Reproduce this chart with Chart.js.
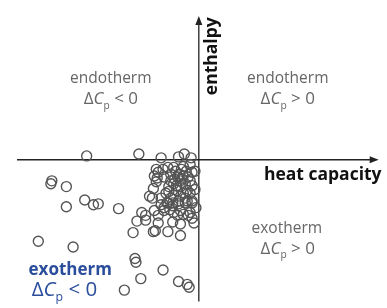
<!DOCTYPE html>
<html>
<head>
<meta charset="utf-8">
<script src="https://cdn.jsdelivr.net/npm/chart.js@4"></script>
<style>
  html, body { margin: 0; padding: 0; background: #fff; }
  #wrap { width: 387px; height: 308px; }
</style>
</head>
<body>
<div id="wrap"><canvas id="chart" width="387" height="308"></canvas></div>
<script>
// heat capacity change (x) vs enthalpy change (y), arbitrary units, origin where the axes cross
const heatCapacity = [
  -116, -62, -152, -153, -137, -118, -109, -104, -137, -83, -166, -130, -68, -64, -55,
  -66, -65, -37, -60, -21, -12, -10, -77, -39, -21, -15, -8,
  -44, -37, -32, -26, -16, -9, -7, -46, -36, -44, -47, -51, -29, -22, -16, -9, -7,
  -26, -19, -12, -31, -34, -26, -19, -39, -9, -12, -7, -42, -43,
  -24, -19, -14, -29, -23, -16, -29, -21, -33, -27, -17, -13, -31, -25, -20, -11,
  -48, -32, -27, -21, -14, -7, -59, -55, -46, -42, -36, -30, -26, -19, -16, -9, -11,
  -7, -5, -42, -27, -19, -47, -45, -32, -19, -22, -39, -36,
  -4, -4, -3, -18, -23, -14
];
const enthalpy = [
  4, 6, -22, -25, -28, -42, -47, -46, -49, -51, -85, -91, -76, -64, -63,
  -103, -107, -115, -124, -127, -130, -133, -136, 2, 3, 6, 2,
  -10, -10, -8, -8, -7, -5, -13, -17, -18, -23, -30, -38, -15, -18, -17, -22, -27,
  -25, -28, -32, -28, -35, -37, -38, -40, -35, -43, -43, -13, -19,
  -12, -22, -25, -22, -32, -35, -40, -43, -45, -48, -20, -12, -33, -20, -15, -18,
  -40, -45, -45, -46, -45, -45, -55, -58, -53, -58, -53, -52, -55, -53, -57, -55, -58,
  -61, -66, -66, -65, -67, -75, -74, -75, -79, -58, -47, -50,
  -12, -31, -50, -10, -27, -40
];
const xRange = [-199, 188];
const yRange = [-148, 160];

const points = heatCapacity.map((x, i) => ({ x: x, y: enthalpy[i] }));

const FONT = '"Open Sans", "DejaVu Sans", sans-serif';

// draw a line of text made of runs (normal / italic / subscript), centred on cx
function drawRuns(ctx, runs, cx, cy, size, color, weight) {
  const fontFor = r => {
    const s = r.sub ? size * 0.6 : size;
    return (r.italic ? 'italic ' : '') + (weight || 'normal') + ' ' + s + 'px ' + FONT;
  };
  let total = 0;
  runs.forEach(r => { ctx.font = fontFor(r); r.w = ctx.measureText(r.t).width; total += r.w; });
  let x = cx - total / 2;
  ctx.fillStyle = color;
  ctx.textBaseline = 'middle';
  ctx.textAlign = 'left';
  runs.forEach(r => {
    ctx.font = fontFor(r);
    ctx.fillText(r.t, x, cy + (r.sub ? size * 0.38 : 0));
    x += r.w;
  });
}

function deltaCp(sign) {
  return [{ t: '\u0394' }, { t: 'C', italic: true }, { t: 'p', sub: true }, { t: ' ' + sign + ' 0' }];
}

const axesPlugin = {
  id: 'axesPlugin',
  beforeDatasetsDraw(chart) {
    const ctx = chart.ctx;
    const xs = chart.scales.x, ys = chart.scales.y;
    const x0 = xs.getPixelForValue(0), y0 = ys.getPixelForValue(0);
    const left = xs.getPixelForValue(-188), right = xs.getPixelForValue(186);
    const top = ys.getPixelForValue(150), bottom = ys.getPixelForValue(-148);
    ctx.save();
    ctx.strokeStyle = '#222';
    ctx.fillStyle = '#222';
    ctx.lineWidth = 1.3;
    ctx.beginPath();
    ctx.moveTo(left, y0); ctx.lineTo(right - 6, y0);
    ctx.moveTo(x0, bottom); ctx.lineTo(x0, top + 6);
    ctx.stroke();
    // arrow heads
    ctx.beginPath();
    ctx.moveTo(right, y0); ctx.lineTo(right - 9, y0 - 3.5); ctx.lineTo(right - 9, y0 + 3.5); ctx.closePath();
    ctx.fill();
    ctx.beginPath();
    ctx.moveTo(x0, top); ctx.lineTo(x0 - 3.5, top + 9); ctx.lineTo(x0 + 3.5, top + 9); ctx.closePath();
    ctx.fill();
    ctx.restore();
  },
  afterDatasetsDraw(chart) {
    const ctx = chart.ctx;
    const xs = chart.scales.x, ys = chart.scales.y;
    const px = v => xs.getPixelForValue(v), py = v => ys.getPixelForValue(v);
    ctx.save();
    const grey = '#666';
    // quadrant labels
    drawRuns(ctx, [{ t: 'endotherm' }], px(-91), py(85), 15.5, grey);
    drawRuns(ctx, deltaCp('<'), px(-91), py(63), 17, grey);
    drawRuns(ctx, [{ t: 'endotherm' }], px(92), py(85), 15.5, grey);
    drawRuns(ctx, deltaCp('>'), px(92), py(63), 17, grey);
    drawRuns(ctx, [{ t: 'exotherm' }], px(91), py(-72), 15.5, grey);
    drawRuns(ctx, deltaCp('>'), px(92), py(-93), 17, grey);
    const blue = '#2a4d9c';
    drawRuns(ctx, [{ t: 'exotherm' }], px(-133), py(-115), 17, blue, 'bold');
    drawRuns(ctx, deltaCp('<'), px(-139), py(-136), 20.5, blue);
    // axis titles
    ctx.fillStyle = '#111';
    ctx.font = 'bold 17.5px ' + FONT;
    ctx.textAlign = 'right';
    ctx.textBaseline = 'middle';
    ctx.fillText('heat capacity', px(189), py(-16));
    ctx.save();
    ctx.translate(px(14), py(108));
    ctx.rotate(-Math.PI / 2);
    ctx.textAlign = 'center';
    ctx.fillText('enthalpy', 0, 0);
    ctx.restore();
    ctx.restore();
  }
};

new Chart(document.getElementById('chart'), {
  type: 'scatter',
  data: {
    datasets: [{
      data: points,
      pointStyle: 'circle',
      pointRadius: 5,
      pointBorderWidth: 1.4,
      borderColor: '#555',
      backgroundColor: 'rgba(0,0,0,0)'
    }]
  },
  options: {
    responsive: false,
    animation: false,
    devicePixelRatio: 1,
    layout: { padding: 0 },
    plugins: { legend: { display: false }, tooltip: { enabled: false } },
    scales: {
      x: { type: 'linear', min: xRange[0], max: xRange[1], display: false },
      y: { type: 'linear', min: yRange[0], max: yRange[1], display: false }
    }
  },
  plugins: [axesPlugin]
});
</script>
</body>
</html>
